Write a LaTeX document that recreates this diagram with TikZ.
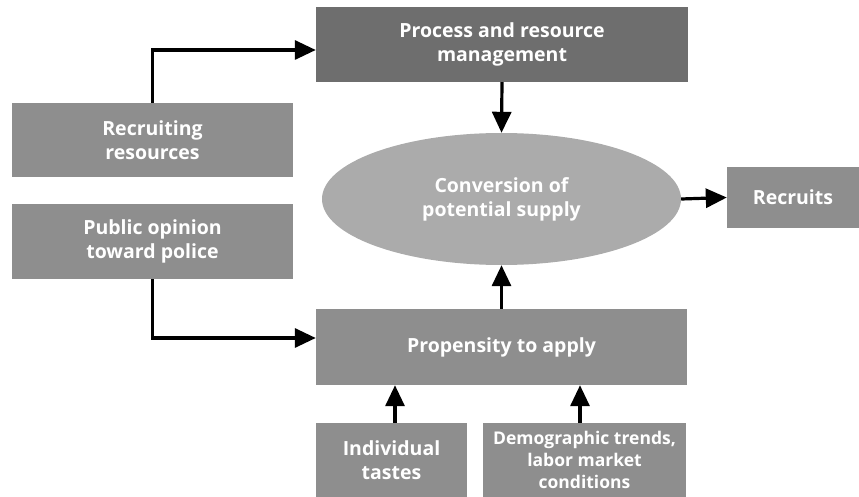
\documentclass[tikz,border=0pt]{standalone}
\usepackage{fontspec}
\setmainfont{Open Sans}
\usetikzlibrary{arrows.meta,shapes.geometric}
\definecolor{boxgray}{HTML}{8E8E8E}
\definecolor{darkgray}{HTML}{6E6E6E}
\definecolor{ellgray}{HTML}{ABABAB}
\tikzset{
  box/.style={rectangle, fill=boxgray, draw=none, text=white, font=\fontsize{19.5}{24}\selectfont\bfseries, align=center, inner sep=0pt},
  darkbox/.style={box, fill=darkgray},
  ellbox/.style={ellipse, fill=ellgray, draw=none, text=white, font=\fontsize{19.5}{24}\selectfont\bfseries, align=center, inner sep=0pt},
  conn/.style={line width=3.2pt, -{Triangle[width=19pt,length=21pt]}}
}
\begin{document}
\begin{tikzpicture}[x=1pt,y=-1pt]
\useasboundingbox (0,0) rectangle (859,497);
\node[darkbox, minimum width=372pt, minimum height=75pt] (proc) at (502,44.5) {Process and resource\\management};
\node[box, minimum width=281pt, minimum height=74pt] (recres) at (152.5,140) {Recruiting\\resources};
\node[box, minimum width=281pt, minimum height=75pt] (pubop) at (152.5,241.5) {Public opinion\\toward police};
\node[ellbox, minimum width=359pt, minimum height=132pt] (conv) at (501.5,199) {Conversion of\\potential supply};
\node[box, minimum width=132pt, minimum height=61pt] (recruits) at (793,197.5) {Recruits};
\node[box, minimum width=371pt, minimum height=76pt] (prop) at (501.5,347) {Propensity to apply};
\node[box, minimum width=151pt, minimum height=74pt] (indiv) at (391.5,460) {Individual\\tastes};
\node[box, minimum width=203pt, minimum height=74pt, font=\fontsize{17.5}{22}\selectfont\bfseries] (demo) at (584.5,460) {Demographic trends,\\labor market\\conditions};
\draw[conn] (recres.north) |- ([yshift=-5.5pt]proc.west);
\draw[conn] (pubop.south) |- ([yshift=9pt]prop.west);
\draw[conn] (proc.south) -- (conv.north);
\draw[conn] (prop.north) -- (conv.south);
\draw[conn] ([xshift=3.5pt]indiv.north) -- ([xshift=3.5pt]indiv.north |- prop.south);
\draw[conn] ([xshift=-4.5pt]demo.north) -- ([xshift=-4.5pt]demo.north |- prop.south);
\draw[conn] (conv.east) -- (recruits.west);
\end{tikzpicture}
\end{document}
